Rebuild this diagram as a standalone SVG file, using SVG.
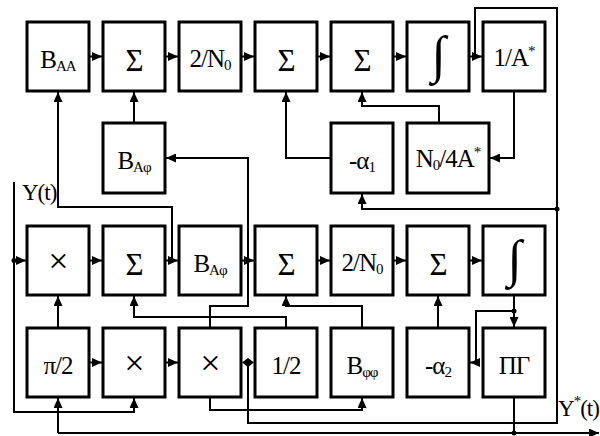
<svg xmlns="http://www.w3.org/2000/svg" width="600" height="436" viewBox="0 0 600 436">
<style>
.b{fill:#fff;stroke:#000;stroke-width:3}
.c{fill:none;stroke:#000;stroke-width:2}
.t{font-family:"Liberation Serif","Times New Roman",serif;font-size:25px;text-anchor:middle;fill:#000;letter-spacing:-1px}
.s{font-size:15px}
.g{font-size:31px}
.x{font-size:36px}
.i{font-size:52px}
.l{font-family:"Liberation Serif","Times New Roman",serif;font-size:23px;fill:#000;letter-spacing:-1px}
</style>
<defs>
<marker id="a" markerWidth="10" markerHeight="9" refX="10" refY="4.5" orient="auto" markerUnits="userSpaceOnUse"><path d="M0,0 L10,4.5 L0,9 z" fill="#000"/></marker>
</defs>
<rect width="600" height="436" fill="#fff"/>
<g id="connectors">
<path class="c" marker-end="url(#a)" d="M89,56.5 H102"/>
<path class="c" marker-end="url(#a)" d="M165,56.5 H178"/>
<path class="c" marker-end="url(#a)" d="M241,56.5 H254"/>
<path class="c" marker-end="url(#a)" d="M317,56.5 H330"/>
<path class="c" marker-end="url(#a)" d="M393,56.5 H406"/>
<path class="c" marker-end="url(#a)" d="M469,56.5 H482"/>
<path class="c" marker-end="url(#a)" d="M14,260.5 H26"/>
<path class="c" marker-end="url(#a)" d="M89,260.5 H102"/>
<path class="c" marker-end="url(#a)" d="M165,260.5 H178"/>
<path class="c" marker-end="url(#a)" d="M241,260.5 H254"/>
<path class="c" marker-end="url(#a)" d="M317,260.5 H330"/>
<path class="c" marker-end="url(#a)" d="M393,260.5 H406"/>
<path class="c" marker-end="url(#a)" d="M469,260.5 H482"/>
<path class="c" marker-end="url(#a)" d="M89,362.5 H102"/>
<path class="c" marker-end="url(#a)" d="M165,362.5 H178"/>
<path class="c" marker-end="url(#a)" d="M134,123 V92"/>
<path class="c" marker-end="url(#a)" d="M172,260.5 V207 H58 V92"/>
<path class="c" marker-end="url(#a)" d="M514,91 V158 H490"/>
<path class="c" marker-end="url(#a)" d="M439,123 V106 H362 V92"/>
<path class="c" marker-end="url(#a)" d="M331,158 H286 V92"/>
<path class="c" d="M475,56.5 V8 H557 V423 H248 V362.5"/>
<path class="c" marker-end="url(#a)" d="M557,209 H362 V194"/>
<path class="c" marker-end="url(#a)" d="M210,328 V306 H248 V158 H166"/>
<path class="c" marker-end="url(#a)" d="M210,397 V410 H362 V398"/>
<path class="c" marker-end="url(#a)" d="M286,328 V317 H134 V296"/>
<path class="c" marker-end="url(#a)" d="M362,328 V306 H286 V296"/>
<path class="c" marker-end="url(#a)" d="M14,182 V412 H134 V398"/>
<path class="c" marker-end="url(#a)" d="M58,328 V296"/>
<path class="c" marker-end="url(#a)" d="M58,433 V398"/>
<path class="c" marker-end="url(#a)" d="M58,433 H599"/>
<path class="c" d="M514,397 V433"/>
<path class="c" marker-end="url(#a)" d="M514,295 V327"/>
<path class="c" marker-end="url(#a)" d="M514,311 H476 V362.5 H470"/>
<path class="c" marker-end="url(#a)" d="M438,328 V296"/>
<path d="M242,362.5 L248,358 L248,367 z M254,362.5 L248,358 L248,367 z" fill="#000"/>
<circle cx="248" cy="362.5" r="3"/>
<circle cx="14" cy="260.5" r="2.5"/>
<circle cx="557" cy="209" r="2.5"/>
<circle cx="514" cy="311" r="2.5"/>
<circle cx="514" cy="433" r="2.5"/>
</g>
<g id="n_baa"><rect class="b" x="27" y="22" width="62" height="69"/><text class="t" x="58" y="68">B<tspan class="s" dy="3">AA</tspan></text></g>
<g id="n_sum1"><rect class="b" x="103" y="22" width="62" height="69"/><text class="t g" x="134" y="71">Σ</text></g>
<g id="n_2n0a"><rect class="b" x="179" y="22" width="62" height="69"/><text class="t" x="210" y="67">2/N<tspan class="s" dy="3">0</tspan></text></g>
<g id="n_sum2"><rect class="b" x="255" y="22" width="62" height="69"/><text class="t g" x="286" y="71">Σ</text></g>
<g id="n_sum3"><rect class="b" x="331" y="22" width="62" height="69"/><text class="t g" x="362" y="71">Σ</text></g>
<g id="n_int1"><rect class="b" x="407" y="22" width="62" height="69"/><text class="t i" x="438" y="72">∫</text></g>
<g id="n_inva"><rect class="b" x="483" y="22" width="62" height="69"/><text class="t" x="514" y="66">1/A<tspan class="s" dy="-10">*</tspan></text></g>
<g id="n_bap1"><rect class="b" x="103" y="123" width="62" height="70"/><text class="t" x="134" y="169">B<tspan class="s" dy="3">Aφ</tspan></text></g>
<g id="n_a1"><rect class="b" x="331" y="123" width="62" height="70"/><text class="t" x="362" y="169">-α<tspan class="s" dy="3">1</tspan></text></g>
<g id="n_n04a"><rect class="b" x="407" y="123" width="82" height="70"/><text class="t" x="448" y="167">N<tspan class="s" dy="3">0</tspan><tspan dy="-3">/4A</tspan><tspan class="s" dy="-10">*</tspan></text></g>
<g id="n_mul1"><rect class="b" x="27" y="226" width="62" height="69"/><text class="t x" x="58" y="273">×</text></g>
<g id="n_sum4"><rect class="b" x="103" y="226" width="62" height="69"/><text class="t g" x="134" y="275">Σ</text></g>
<g id="n_bap2"><rect class="b" x="179" y="226" width="62" height="69"/><text class="t" x="210" y="272">B<tspan class="s" dy="3">Aφ</tspan></text></g>
<g id="n_sum5"><rect class="b" x="255" y="226" width="62" height="69"/><text class="t g" x="286" y="275">Σ</text></g>
<g id="n_2n0b"><rect class="b" x="331" y="226" width="62" height="69"/><text class="t" x="362" y="271">2/N<tspan class="s" dy="3">0</tspan></text></g>
<g id="n_sum6"><rect class="b" x="407" y="226" width="62" height="69"/><text class="t g" x="438" y="275">Σ</text></g>
<g id="n_int2"><rect class="b" x="483" y="226" width="62" height="69"/><text class="t i" x="514" y="276">∫</text></g>
<g id="n_pi2"><rect class="b" x="27" y="328" width="62" height="69"/><text class="t" x="58" y="374">π/2</text></g>
<g id="n_mul2"><rect class="b" x="103" y="328" width="62" height="69"/><text class="t x" x="134" y="375">×</text></g>
<g id="n_mul3"><rect class="b" x="179" y="328" width="62" height="69"/><text class="t x" x="210" y="375">×</text></g>
<g id="n_half"><rect class="b" x="255" y="328" width="62" height="69"/><text class="t" x="286" y="374">1/2</text></g>
<g id="n_bff"><rect class="b" x="331" y="328" width="62" height="69"/><text class="t" x="362" y="374">B<tspan class="s" dy="3">φφ</tspan></text></g>
<g id="n_a2"><rect class="b" x="407" y="328" width="62" height="69"/><text class="t" x="438" y="374">-α<tspan class="s" dy="3">2</tspan></text></g>
<g id="n_pg"><rect class="b" x="483" y="328" width="62" height="69"/><text class="t" x="514" y="374">ПГ</text></g>
<text class="l" x="22" y="200">Y(t)</text>
<text class="l" x="558" y="416">Y<tspan class="s" font-size="13" dy="-10">*</tspan><tspan dy="10">(t)</tspan></text>
</svg>
